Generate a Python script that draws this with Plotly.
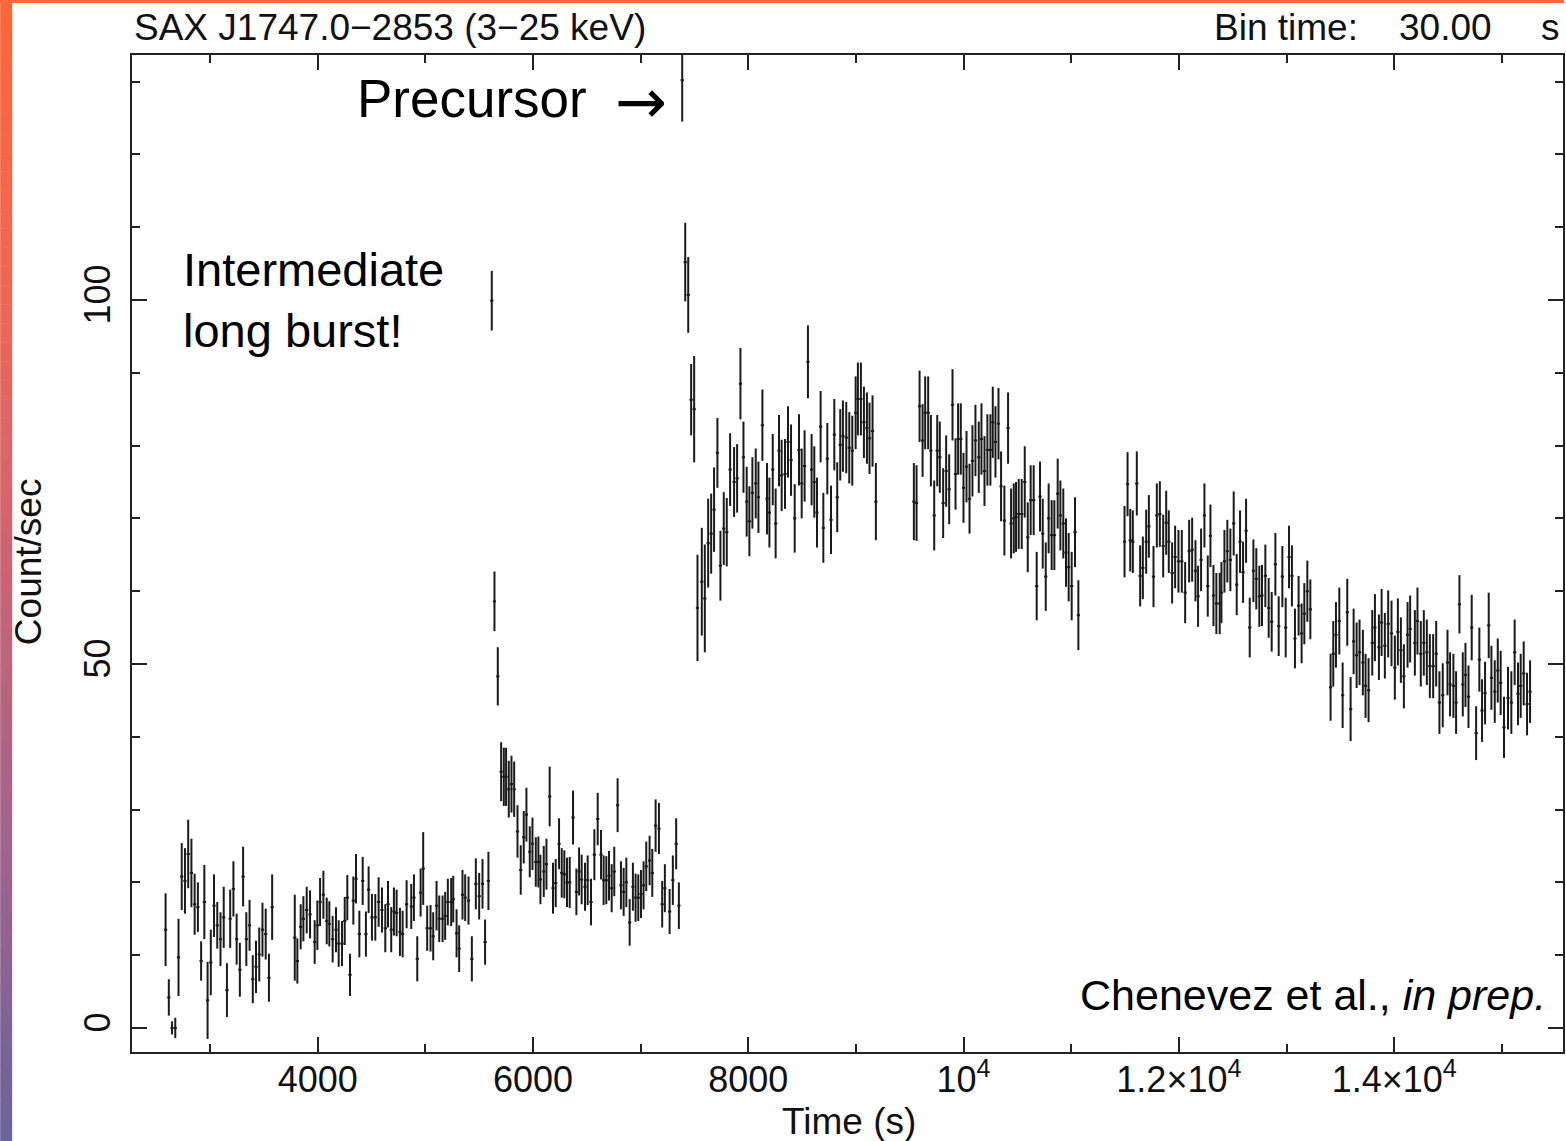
import plotly.graph_objects as go

# ---------------- data ----------------
# Segment 1: pre-burst persistent emission
seg1_time = [2587, 2617, 2647, 2677, 2707, 2737, 2767, 2797, 2827, 2857, 2887, 2917, 2947, 2977,
             3007, 3037, 3067, 3097, 3127, 3157, 3187, 3217, 3247, 3277, 3307, 3337, 3367, 3397,
             3427, 3457, 3487, 3517, 3547, 3577]
seg1_rate = [13.5, 4.2, 0.0, 0.0, 9.7, 20.8, 20.2, 23.9, 21.3, 17.0, 16.6, 9.2, 17.3, 3.8,
             9.0, 16.8, 14.1, 12.2, 15.2, 5.2, 15.0, 19.1, 12.2, 8.0, 20.8, 12.2, 14.1, 6.7,
             8.4, 10.1, 13.5, 12.9, 6.9, 16.6]
seg1_err = [5.0, 2.5, 0.9, 1.4, 5.3, 4.6, 4.5, 4.7, 4.7, 4.2, 3.4, 2.7, 5.1, 5.3,
            4.5, 4.3, 3.2, 3.7, 4.2, 3.7, 4.0, 3.8, 3.5, 3.7, 4.1, 3.7, 3.5, 3.3,
            3.6, 3.7, 3.7, 3.5, 3.3, 4.5]

# Segment 2
seg2_time = [3787, 3811, 3842, 3867, 3898, 3929, 3972, 3997, 4022, 4053,
             4084, 4108, 4139, 4170, 4195, 4226, 4251, 4275, 4300, 4331,
             4356, 4387, 4418, 4448, 4473, 4504, 4535, 4566, 4597, 4628,
             4653, 4683, 4708, 4733, 4764, 4789, 4826, 4869, 4894, 4925,
             4956, 4980, 5017, 5048, 5073, 5104, 5129, 5160, 5184, 5209,
             5240, 5259, 5290, 5314, 5345, 5370, 5401, 5432, 5469, 5500,
             5531, 5555, 5586]
seg2_rate = [12.4, 9.2, 13.9, 15.0, 16.2, 15.6, 11.8, 14.1, 17.3, 18.3,
             14.7, 14.3, 12.2, 13.5, 11.6, 11.6, 14.7, 17.9, 7.3, 17.5,
             20.5, 12.9, 20.2, 12.9, 19.0, 15.2, 15.2, 17.3, 16.2, 13.7,
             17.0, 13.5, 16.0, 15.8, 13.2, 12.9, 17.0, 16.7, 17.9, 9.5,
             18.6, 21.9, 13.7, 13.7, 12.6, 16.8, 15.0, 15.0, 15.4, 17.3,
             17.3, 17.7, 13.0, 10.9, 18.3, 17.9, 17.5, 9.5, 19.8, 18.1,
             19.8, 11.8, 20.2]
seg2_err = [5.9, 3.1, 3.1, 3.1, 3.2, 3.3, 3.0, 3.4, 3.3, 3.3,
            3.2, 3.1, 3.2, 3.1, 3.2, 3.1, 3.3, 3.1, 2.9, 3.3,
            3.4, 3.2, 3.3, 3.1, 3.2, 3.2, 3.2, 3.4, 3.1, 3.3,
            3.2, 3.1, 3.3, 3.2, 3.3, 3.2, 3.3, 3.1, 3.2, 3.1,
            3.3, 5.0, 3.1, 3.2, 3.3, 3.4, 3.2, 3.2, 3.3, 3.2,
            3.3, 3.2, 3.3, 3.2, 3.4, 3.2, 3.3, 3.1, 3.5, 3.2,
            3.4, 3.1, 4.0]

# Segment 3: intermediate burst, tail and precursor
seg3_time = [5617, 5642, 5673, 5704, 5729, 5750, 5775, 5800, 5825, 5856,
             5886, 5914, 5939, 5970, 5995, 6026, 6050, 6069, 6100, 6125,
             6155, 6186, 6211, 6242, 6267, 6291, 6316, 6341, 6372, 6403,
             6428, 6452, 6483, 6508, 6539, 6570, 6601, 6632, 6656, 6681,
             6706, 6731, 6755, 6786, 6817, 6842, 6867, 6898, 6928, 6953,
             6978, 7003, 7027, 7052, 7083, 7108, 7139, 7170, 7200, 7225,
             7269, 7299, 7330, 7355, 7386, 7414, 7442]
seg3_rate = [99.9, 58.6, 48.3, 35.2, 34.5, 34.5, 32.8, 33.5, 32.8, 27.0,
             21.7, 26.2, 29.3, 24.2, 25.3, 22.8, 22.8, 20.4, 21.5, 22.5,
             31.8, 19.2, 19.9, 25.3, 21.3, 21.1, 20.0, 20.0, 28.9, 18.7,
             21.5, 20.4, 19.4, 20.3, 17.3, 23.8, 28.7, 23.8, 20.3, 20.3,
             20.9, 19.2, 21.5, 30.6, 19.6, 18.7, 20.0, 14.5, 19.4, 17.9,
             17.9, 18.4, 19.6, 22.2, 23.0, 21.3, 27.8, 27.4, 17.0, 19.2,
             16.0, 20.3, 25.3, 16.8, 130.2, 105.2, 100.7]
seg3_err = [4.1, 4.1, 4.0, 4.05, 4.0, 4.0, 3.9, 3.9, 3.8, 3.6,
            3.4, 3.6, 3.7, 3.5, 3.6, 3.4, 3.5, 3.4, 3.5, 3.5,
            4.1, 3.5, 3.3, 3.5, 3.4, 3.3, 3.4, 3.5, 3.7, 3.2,
            3.3, 3.4, 3.3, 3.4, 3.2, 3.5, 3.6, 3.4, 3.4, 3.3,
            3.4, 3.3, 3.4, 3.7, 3.3, 3.3, 3.4, 3.2, 3.3, 3.3,
            3.2, 3.3, 3.3, 3.4, 3.4, 3.3, 3.6, 3.5, 3.2, 3.3,
            3.1, 3.4, 3.5, 3.2, 5.7, 5.4, 5.2]

# Segment 4: superburst rise
seg4_time = [7469, 7497, 7528, 7568, 7596, 7627, 7655, 7682, 7713, 7741,
             7772, 7800, 7831, 7868, 7896, 7927, 7955, 7985, 8010, 8038,
             8069, 8094, 8131, 8174, 8196, 8227, 8254, 8285, 8310, 8341,
             8369, 8397, 8431, 8471, 8496, 8523, 8554, 8588, 8613, 8638,
             8672, 8697, 8734, 8768, 8799, 8826, 8854, 8879, 8910, 8938,
             8966, 8997, 9018, 9046, 9074, 9102, 9126, 9154, 9185]
seg4_rate = [86.3, 85.0, 57.7, 61.3, 59.0, 66.6, 67.9, 71.2, 79.0, 63.5,
             68.6, 68.1, 76.7, 75.0, 75.5, 88.5, 78.4, 72.3, 69.6, 73.5,
             74.8, 72.9, 82.8, 72.7, 70.8, 76.7, 69.3, 79.3, 75.9, 76.1,
             80.5, 78.0, 70.0, 79.4, 74.8, 77.2, 91.5, 76.7, 75.0, 70.8,
             82.6, 68.7, 78.2, 69.8, 81.5, 72.9, 80.1, 81.3, 81.1, 79.7,
             79.3, 84.5, 86.4, 86.4, 83.2, 82.4, 81.0, 82.0, 72.3]
seg4_err = [4.9, 7.3, 7.3, 7.4, 7.4, 6.1, 5.5, 5.8, 4.8, 4.8,
            5.0, 4.7, 5.0, 4.8, 4.7, 4.9, 4.9, 4.8, 4.8, 4.9,
            4.8, 4.9, 4.9, 4.9, 4.8, 4.9, 4.8, 4.9, 4.9, 4.8,
            4.9, 4.9, 4.7, 4.9, 4.8, 4.9, 5.0, 4.9, 4.9, 4.8,
            4.9, 4.8, 4.9, 4.7, 4.9, 4.8, 4.9, 4.9, 4.9, 4.9,
            4.8, 5.0, 5.0, 5.0, 4.9, 4.9, 4.9, 4.9, 5.3]

# Segment 5
seg5_time = [9538, 9563, 9591, 9619, 9643, 9671, 9696, 9727, 9755, 9779,
             9810, 9838, 9866, 9897, 9925, 9949, 9974, 9999, 10027, 10055,
             10082, 10110, 10141, 10166, 10194, 10221, 10249, 10271, 10296, 10324,
             10348, 10379, 10413, 10441, 10466, 10487, 10512, 10540, 10568, 10596,
             10623, 10651, 10679, 10710, 10735, 10763, 10790, 10818, 10843, 10874,
             10899, 10926, 10951, 10976, 11004, 11035, 11066]
seg5_rate = [72.3, 72.1, 85.4, 80.7, 84.5, 84.5, 79.3, 70.4, 79.3, 78.4,
             72.1, 76.5, 74.0, 85.6, 76.1, 80.9, 80.9, 74.2, 77.1, 72.7,
             77.9, 80.7, 78.4, 80.9, 76.5, 79.4, 79.4, 83.2, 80.5, 83.0,
             74.4, 69.7, 82.4, 69.3, 70.0, 70.2, 70.6, 70.6, 75.0, 67.4,
             72.5, 72.5, 60.7, 73.0, 67.9, 62.0, 70.0, 67.7, 67.7, 73.4,
             70.4, 69.3, 65.3, 63.3, 60.7, 68.1, 56.7]
seg5_err = [5.3, 5.2, 4.9, 5.0, 5.0, 5.0, 4.9, 4.8, 4.9, 4.9,
            4.8, 4.9, 4.8, 4.9, 4.9, 4.9, 4.9, 4.8, 4.9, 4.8,
            4.9, 4.9, 4.9, 4.9, 4.8, 4.9, 4.9, 4.9, 4.9, 4.9,
            4.8, 4.8, 4.9, 4.8, 4.8, 4.8, 4.8, 4.8, 4.9, 4.8,
            4.8, 4.8, 4.7, 4.8, 4.8, 4.7, 4.8, 4.8, 4.8, 4.8,
            4.8, 4.8, 4.7, 4.7, 4.7, 4.8, 4.8]

# Segment 6
seg6_time = [11495, 11523, 11548, 11572, 11609, 11640, 11665, 11696, 11721, 11764,
             11795, 11823, 11854, 11882, 11906, 11937, 11965, 11996, 12027, 12058,
             12095, 12123, 12154, 12178, 12206, 12237, 12268, 12293, 12321, 12348,
             12379, 12395, 12423, 12450, 12478, 12509, 12537, 12568, 12596, 12624,
             12658, 12692, 12719, 12747, 12772, 12803, 12834, 12862, 12896, 12927,
             12961, 12992, 13023, 13050, 13078, 13112, 13140, 13165, 13193, 13221]
seg6_rate = [66.8, 74.7, 67.0, 66.8, 74.8, 62.1, 63.2, 66.8, 68.9, 62.0,
             70.4, 70.6, 66.2, 69.4, 66.8, 62.5, 64.7, 64.1, 64.1, 59.8,
             65.5, 65.7, 62.8, 59.3, 64.3, 70.4, 60.7, 67.6, 59.4, 58.3,
             58.3, 59.8, 64.1, 65.5, 64.3, 69.3, 60.9, 66.8, 62.6, 68.3,
             55.0, 62.8, 61.7, 59.3, 59.4, 62.1, 57.7, 55.8, 63.7, 55.2,
             62.0, 55.0, 64.7, 62.1, 53.5, 58.0, 54.2, 56.9, 60.0, 57.5]
seg6_err = [4.9, 4.4, 4.3, 4.3, 4.4, 4.2, 4.3, 4.4, 4.3, 4.2,
            4.4, 4.5, 4.3, 4.4, 4.3, 4.2, 4.3, 4.3, 4.3, 4.2,
            4.3, 4.4, 4.2, 4.2, 4.3, 4.4, 4.2, 4.3, 4.2, 4.2,
            4.2, 4.2, 4.3, 4.3, 4.3, 4.4, 4.2, 4.3, 4.2, 4.4,
            4.1, 4.3, 4.2, 4.2, 4.2, 4.3, 4.1, 4.1, 4.3, 4.1,
            4.2, 4.1, 4.3, 4.2, 4.1, 4.1, 4.1, 4.2, 4.2, 4.1]

# Segment 7
seg7_time = [13409, 13434, 13459, 13490, 13521, 13564, 13595, 13623, 13651, 13678,
             13709, 13734, 13762, 13796, 13821, 13858, 13883, 13913, 13944, 13975,
             14006, 14034, 14062, 14090, 14124, 14148, 14192, 14216, 14247, 14275,
             14303, 14331, 14362, 14390, 14420, 14451, 14495, 14519, 14550, 14575,
             14606, 14637, 14662, 14690, 14720, 14761, 14791, 14816, 14844, 14878,
             14903, 14934, 14962, 14989, 15020, 15057, 15088, 15119, 15150, 15175,
             15203, 15234, 15262]
seg7_rate = [46.8, 51.4, 54.0, 55.9, 45.7, 57.1, 43.8, 53.1, 51.2, 51.6,
             50.2, 47.0, 46.4, 52.9, 55.0, 52.3, 55.7, 52.5, 55.5, 54.2,
             49.5, 54.4, 51.9, 48.3, 54.0, 54.8, 52.9, 55.9, 51.4, 52.9,
             51.6, 49.7, 49.7, 51.4, 44.7, 45.7, 50.2, 47.2, 47.0, 44.7,
             58.2, 47.2, 48.5, 45.5, 55.0, 40.5, 50.6, 43.6, 46.0, 55.3,
             48.1, 46.2, 49.1, 47.4, 41.3, 45.3, 44.7, 51.6, 45.9, 47.0,
             48.7, 44.5, 46.2]
seg7_err = [4.6, 4.5, 4.5, 4.6, 4.5, 4.6, 4.4, 4.5, 4.5, 4.5,
            4.5, 4.4, 4.4, 4.5, 4.6, 4.5, 4.6, 4.5, 4.6, 4.5,
            4.4, 4.6, 4.5, 4.4, 4.5, 4.6, 4.5, 4.6, 4.5, 4.5,
            4.5, 4.4, 4.4, 4.5, 4.3, 4.4, 4.5, 4.4, 4.4, 4.3,
            4.0, 4.4, 4.4, 4.3, 4.5, 3.7, 4.4, 4.3, 4.3, 4.5,
            4.4, 4.3, 4.4, 4.4, 4.2, 4.3, 4.3, 4.5, 4.3, 4.4,
            4.4, 4.3, 4.3]

BIN_TIME = 30.0  # s

x_tickvals = [4000, 6000, 8000, 10000, 12000, 14000]
x_ticktext = ["4000", "6000", "8000", "10<sup>4</sup>", "1.2×10<sup>4</sup>", "1.4×10<sup>4</sup>"]
y_tickvals = [0, 50, 100]
y_ticktext = ["0", "50", "100"]

segments = [
    (seg1_time, seg1_rate, seg1_err),
    (seg2_time, seg2_rate, seg2_err),
    (seg3_time, seg3_rate, seg3_err),
    (seg4_time, seg4_rate, seg4_err),
    (seg5_time, seg5_rate, seg5_err),
    (seg6_time, seg6_rate, seg6_err),
    (seg7_time, seg7_rate, seg7_err),
]
for i, (t, r, e) in enumerate(segments):
    assert len(t) == len(r) == len(e), (i + 1, len(t), len(r), len(e))

# ---------------- figure ----------------
W, H = 1566, 1141
ML, MR, MT, MB = 132, 1, 55, 89
PW = W - ML - MR
PH = H - MT - MB


def paper_x(px):
    return (px - ML) / PW


def paper_y(py):
    return (H - MB - py) / PH


FONT = "Liberation Sans, Arial, Helvetica, sans-serif"
INK = "#111111"

fig = go.Figure()
for t, r, e in segments:
    fig.add_trace(go.Scatter(
        x=t, y=r, mode="markers",
        marker=dict(size=1, color="black", opacity=0),
        error_y=dict(type="data", array=e, visible=True, color="#1a1a1a", thickness=2, width=0),
        error_x=dict(type="constant", value=BIN_TIME / 2, visible=True, color="#1a1a1a", thickness=2, width=0),
        showlegend=False, hoverinfo="x+y",
    ))

fig.update_layout(
    width=W, height=H,
    margin=dict(l=ML, r=MR, t=MT, b=MB, pad=0),
    paper_bgcolor="white", plot_bgcolor="white",
    font=dict(family=FONT, size=36, color=INK),
    xaxis=dict(
        range=[2275, 15568], showgrid=False, zeroline=False,
        showline=True, linecolor="#222", linewidth=2, mirror="ticks",
        ticks="inside", ticklen=15, tickwidth=1.5, tickcolor="#222",
        tickvals=x_tickvals, ticktext=x_ticktext,
        tickfont=dict(size=36, family=FONT, color=INK),
        ticklabelstandoff=-5,
        minor=dict(ticks="inside", ticklen=8, tickwidth=1.5, tickcolor="#222", dtick=1000, tick0=0, showgrid=False),
    ),
    yaxis=dict(
        range=[-3.3, 133.65], showgrid=False, zeroline=False,
        showline=True, linecolor="#222", linewidth=2, mirror="ticks",
        ticks="inside", ticklen=15, tickwidth=1.5, tickcolor="#222",
        tickvals=y_tickvals, ticktext=y_ticktext, tickangle=-90,
        tickfont=dict(size=36, family=FONT, color=INK),
        ticklabelstandoff=6,
        minor=dict(ticks="inside", ticklen=8, tickwidth=1.5, tickcolor="#222", dtick=10, tick0=0, showgrid=False),
    ),
)

annotations = [
    dict(text="SAX J1747.0−2853 (3−25 keV)", x=paper_x(132), y=paper_y(27), xanchor="left", yanchor="middle",
         font=dict(size=37)),
    dict(text="Bin time:", x=paper_x(1214), y=paper_y(27), xanchor="left", yanchor="middle", font=dict(size=37)),
    dict(text="30.00", x=paper_x(1399), y=paper_y(27), xanchor="left", yanchor="middle", font=dict(size=37)),
    dict(text="s", x=paper_x(1541), y=paper_y(27), xanchor="left", yanchor="middle", font=dict(size=37)),
    dict(text="Time (s)", x=paper_x(850), y=paper_y(1121), xanchor="center", yanchor="middle", font=dict(size=37)),
    dict(text="Count/sec", x=paper_x(28), y=paper_y(562), xanchor="center", yanchor="middle", textangle=-90,
         font=dict(size=37)),
    dict(text="Precursor", x=paper_x(355), y=paper_y(99), xanchor="left", yanchor="middle",
         font=dict(size=53, color="black")),
    dict(text="→", x=paper_x(642), y=paper_y(101), xanchor="center", yanchor="middle",
         font=dict(size=62, color="black", family="DejaVu Sans, sans-serif")),
    dict(text="Intermediate<br>long burst!", x=paper_x(181), y=paper_y(300), xanchor="left", yanchor="middle",
         align="left", font=dict(size=47, color="black")),
    dict(text="Chenevez et al., <i>in prep.</i>", x=paper_x(1550), y=paper_y(995), xanchor="right",
         yanchor="middle", font=dict(size=43, color="black")),
]
for a in annotations:
    a.update(xref="paper", yref="paper", showarrow=False)
fig.update_layout(annotations=annotations)

# slide decoration: orange top rule and vertical gradient strip on the left
shapes = [dict(type="rect", xref="paper", yref="paper", x0=paper_x(0), x1=paper_x(W), y0=paper_y(3), y1=paper_y(0),
               fillcolor="#ff6a3d", line=dict(width=0), layer="above")]
stops = [(0, (255, 102, 55)), (300, (240, 102, 85)), (560, (205, 100, 115)), (850, (160, 100, 140)),
         (1141, (105, 100, 155))]
n_strips = 60
for k in range(n_strips):
    y0p = k * H / n_strips
    y1p = (k + 1) * H / n_strips
    ym = 0.5 * (y0p + y1p)
    for (a_y, a_c), (b_y, b_c) in zip(stops[:-1], stops[1:]):
        if a_y <= ym <= b_y:
            f = (ym - a_y) / (b_y - a_y)
            c = tuple(int(round(a_c[j] + f * (b_c[j] - a_c[j]))) for j in range(3))
            break
    shapes.append(dict(type="rect", xref="paper", yref="paper", x0=paper_x(0), x1=paper_x(12),
                       y0=paper_y(y1p + 0.5), y1=paper_y(y0p), fillcolor="rgb(%d,%d,%d)" % c,
                       line=dict(width=0), layer="above"))
fig.update_layout(shapes=shapes)

fig.write_html("out.html")
